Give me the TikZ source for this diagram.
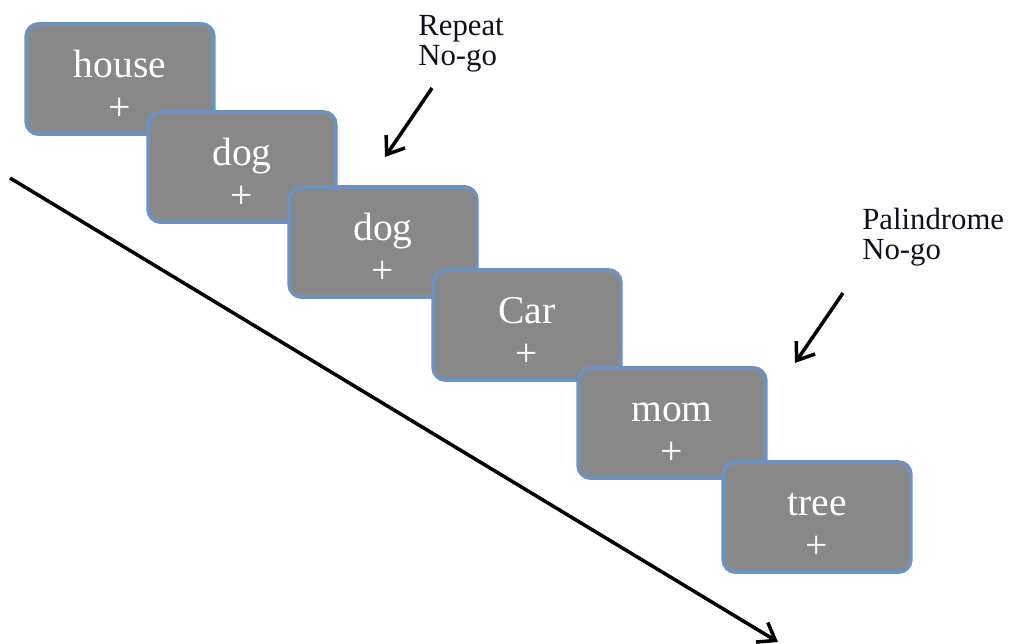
\documentclass[tikz,border=0pt]{standalone}
\usepackage{fontspec}
\setmainfont{Liberation Serif}
\usepackage{xcolor}
\definecolor{cardgray}{RGB}{136,136,136}
\definecolor{cardedge}{RGB}{110,146,190}
\definecolor{labelink}{RGB}{15,15,30}
\usetikzlibrary{arrows.meta,positioning}

\begin{document}
\begin{tikzpicture}[x=0.02cm,y=-0.02cm,
    card/.style={draw=cardedge,fill=cardgray,line width=2.2pt,rounded corners=7pt,
        minimum width=3.75cm,minimum height=2.2cm,align=center,text=white,
        font=\fontsize{22.5}{24}\selectfont},
    cue/.style={align=left,text=labelink,font=\fontsize{17.5}{17}\selectfont},
    pointer/.style={line width=2pt,-{Straight Barb[length=9pt,width=13pt,line width=2pt]}}]
  \useasboundingbox (0,0) rectangle (1026,643);
  %% time axis
  \coordinate (tstart) at (10,178);
  \coordinate (tend) at (778,642);
  \draw[pointer] (tstart) -- (tend);
  %% Card 1
  \node[card] (house) at (120,79) {\rule{0pt}{0.8cm}house\\+};
  %% Card 2
  \node[card] (dogA) at (242,167) {\rule{0pt}{0.8cm}dog\\+};
  %% Card 3
  \node[card] (dogB) at (383,242) {\rule{0pt}{0.8cm}dog\\+};
  %% Card 4
  \node[card] (car) at (527,325) {\rule{0pt}{0.8cm}Car\\+};
  %% Card 5
  \node[card] (mom) at (672,423) {\rule{0pt}{0.8cm}mom\\+};
  %% Card 6
  \node[card] (tree) at (817,517) {\rule{0pt}{0.8cm}tree\\+};
  %% labels
  \node[cue,anchor=north west,inner sep=0pt] (repeat) at (418,15) {Repeat\\No-go};
  \node[cue,anchor=north west,inner sep=0pt] (palin) at (862,208) {Palindrome\\No-go};
  \coordinate (rtail) at (432,88);
  \coordinate (rhead) at (385,157);
  \coordinate (ptail) at (843,293);
  \coordinate (phead) at (795,363);
  \draw[pointer] (rtail) -- (rhead);
  \draw[pointer] (ptail) -- (phead);
\end{tikzpicture}
\end{document}
